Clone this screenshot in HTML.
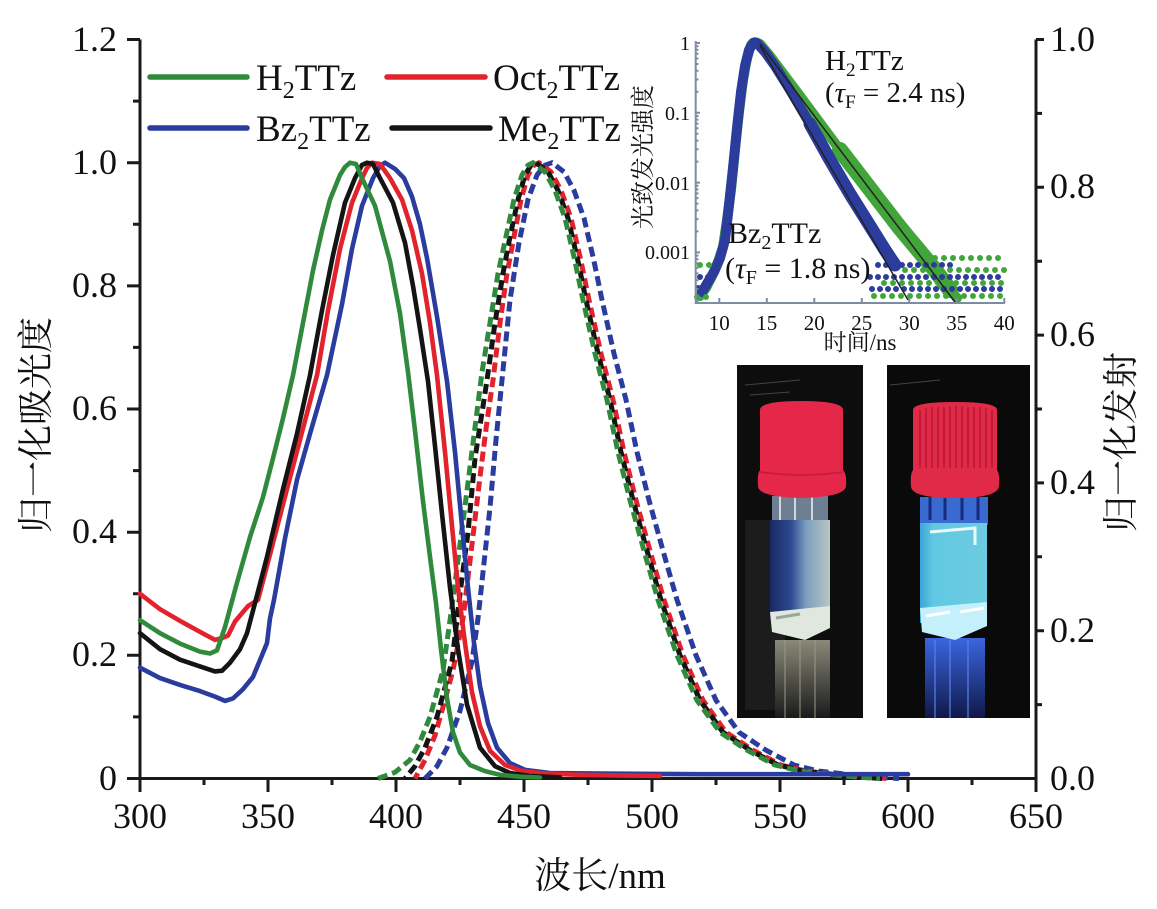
<!DOCTYPE html>
<html><head><meta charset="utf-8">
<style>
html,body{margin:0;padding:0;background:#fff;}
svg{display:block}
text{font-family:"Liberation Serif","Noto Serif CJK SC",serif;fill:#111}
.cjk{font-family:"Liberation Serif","Noto Serif CJK SC","Noto Sans CJK SC",serif}
</style></head>
<body>
<svg width="1157" height="909" viewBox="0 0 1157 909" xmlns="http://www.w3.org/2000/svg">
<defs>
<linearGradient id="bodyL" x1="0" x2="1" y1="0" y2="0">
<stop offset="0" stop-color="#1a2866"/><stop offset="0.35" stop-color="#2c4a90"/><stop offset="0.6" stop-color="#7c9ec0"/><stop offset="1" stop-color="#b9c6c2"/>
</linearGradient>
<linearGradient id="reflL" x1="0" x2="0" y1="0" y2="1">
<stop offset="0" stop-color="#8a8a7a"/><stop offset="1" stop-color="#1a1a1a"/>
</linearGradient>
<linearGradient id="reflR" x1="0" x2="0" y1="0" y2="1">
<stop offset="0" stop-color="#3a66e0"/><stop offset="1" stop-color="#101848"/>
</linearGradient>
<linearGradient id="bodyR" x1="0" x2="1" y1="0" y2="0">
<stop offset="0" stop-color="#3aa6d8"/><stop offset="0.2" stop-color="#62c8e2"/><stop offset="1" stop-color="#6ccbe0"/>
</linearGradient>
</defs>

<!-- ===== Photos ===== -->
<rect x="737" y="365" width="126" height="353" fill="#0d0d0d"/>
<rect x="745" y="520" width="40" height="190" fill="#262626" opacity="0.6"/>
<path d="M745,385 L800,380 M750,395 L790,392" stroke="#444" stroke-width="1"/>
<rect x="775" y="640" width="55" height="78" fill="url(#reflL)"/>
<path d="M785,640 V718 M800,640 V718 M815,640 V718" stroke="#9a9a88" stroke-width="2" opacity="0.5"/>
<rect x="772" y="496" width="56" height="28" fill="#6f7f92"/>
<path d="M780,496 V520 M795,496 V520 M812,496 V520" stroke="#cfd8e0" stroke-width="2"/>
<rect x="770" y="520" width="60" height="100" fill="url(#bodyL)"/>
<path d="M770,612 L830,606 L830,628 L805,640 L772,632 Z" fill="#dfe7df"/>
<path d="M776,618 L800,614" stroke="#9aa89a" stroke-width="3"/>
<path d="M760,410 Q760,401 801,401 Q843,401 843,410 L843,470 Q847,474 846,486 Q845,497 801,498 Q758,497 758,486 Q757,474 760,470 Z" fill="#e5284a"/>
<path d="M760,472 Q801,478 843,472" stroke="#c81e3c" stroke-width="2" fill="none"/>

<rect x="887" y="365" width="143" height="353" fill="#0a0a0a"/>
<path d="M890,385 L940,380" stroke="#444" stroke-width="1"/>
<rect x="925" y="638" width="60" height="80" fill="url(#reflR)"/>
<path d="M935,640 V718 M950,640 V718 M968,640 V718" stroke="#5a80f0" stroke-width="2" opacity="0.6"/>
<rect x="920" y="497" width="68" height="28" fill="#3a6ad0"/>
<path d="M930,497 V520 M945,497 V520 M962,497 V520 M978,497 V520" stroke="#1a2a80" stroke-width="3"/>
<rect x="920" y="523" width="67" height="100" fill="url(#bodyR)"/>
<path d="M930,532 L975,528 L975,545" stroke="#e8fbff" stroke-width="3" fill="none"/>
<path d="M920,608 L987,602 L987,626 L955,640 L922,632 Z" fill="#c4f0fb"/>
<path d="M926,616 L950,612 M960,612 L984,608" stroke="#ffffff" stroke-width="3"/>
<path d="M913,410 Q913,402 955,402 Q997,402 997,410 L997,470 Q1000,474 999,486 Q998,498 955,498 Q911,498 911,486 Q910,474 913,470 Z" fill="#e12a48"/>
<path d="M920,410 V468 M926,408 V468 M932,407 V468 M938,407 V468 M944,407 V468 M950,406 V468 M956,406 V468 M962,406 V468 M968,407 V468 M974,407 V468 M980,407 V468 M986,408 V468 M992,410 V468" stroke="#b81a36" stroke-width="1.6"/>

<!-- ===== Main axes ===== -->
<g stroke="#1a1a1a" stroke-width="3" fill="none">
<path d="M140,39.5 V778.5 H1036 V39.5"/>
<path d="M127,39.5 H140 M127,162.7 H140 M127,285.9 H140 M127,409 H140 M127,532.2 H140 M127,655.3 H140 M127,778.5 H140"/>
<path d="M133,101.1 H140 M133,224.3 H140 M133,347.4 H140 M133,470.6 H140 M133,593.8 H140 M133,716.9 H140"/>
<path d="M140,778.5 V792 M268,778.5 V792 M396,778.5 V792 M524,778.5 V792 M652,778.5 V792 M780,778.5 V792 M908,778.5 V792 M1036,778.5 V792"/>
<path d="M204,778.5 V785 M332,778.5 V785 M460,778.5 V785 M588,778.5 V785 M716,778.5 V785 M844,778.5 V785 M972,778.5 V785"/>
<path d="M1036,39.5 H1044 M1036,187.3 H1044 M1036,335.1 H1044 M1036,482.9 H1044 M1036,630.7 H1044"/>
<path d="M1036,113.4 H1042 M1036,261.2 H1042 M1036,409 H1042 M1036,556.8 H1042 M1036,704.6 H1042"/>
</g>

<!-- tick labels -->
<g font-size="36" text-anchor="end">
<text x="117" y="51">1.2</text>
<text x="117" y="174">1.0</text>
<text x="117" y="297">0.8</text>
<text x="117" y="420">0.6</text>
<text x="117" y="543">0.4</text>
<text x="117" y="666">0.2</text>
<text x="117" y="790">0</text>
</g>
<g font-size="36">
<text x="1050" y="51">1.0</text>
<text x="1050" y="198">0.8</text>
<text x="1050" y="346">0.6</text>
<text x="1050" y="494">0.4</text>
<text x="1050" y="642">0.2</text>
<text x="1050" y="790">0.0</text>
</g>
<g font-size="36" text-anchor="middle">
<text x="140" y="828">300</text>
<text x="268" y="828">350</text>
<text x="396" y="828">400</text>
<text x="524" y="828">450</text>
<text x="652" y="828">500</text>
<text x="780" y="828">550</text>
<text x="908" y="828">600</text>
<text x="1036" y="828">650</text>
</g>

<!-- axis titles -->
<text class="cjk" x="600" y="888" font-size="37" text-anchor="middle">波长/nm</text>
<text class="cjk" font-size="36" text-anchor="middle" transform="translate(35,425) rotate(-90)" y="13">归一化吸光度</text>
<text class="cjk" font-size="36" text-anchor="middle" transform="translate(1120,442) rotate(-90)" y="13">归一化发射</text>

<!-- ===== Emission (dashed) ===== -->
<g fill="none" stroke-width="5" stroke-dasharray="10 5" stroke-linejoin="round">
<polyline stroke="#2a3c9e" points="425,778.5 437,766.2 447,747.7 460,710.8 472,661.5 478,618.4 484,563 490,507.5 496,439.8 502,380.1 510,300 519,242.8 528,199.6 537,175 545,165.2 552,162.7 564,171.9 574,190.4 584,218.1 594,261.2 602,300 614,353.6 626,399.8 637,452.1 649,500.2 663,550.7 677,599.9 696,655.3 716,700.3 739,732.3 766,750.2 794,765 819,771.1 852,774.8 879,777.3 899,778.5"/>
<polyline stroke="#e2232e" stroke-dashoffset="4" points="415,778.5 425,760 435,735.4 443,707.1 453,670.1 463,618.4 472,544.5 480,476.8 487,421.3 493,380.1 500,322.8 507,273.5 514,236.6 521,199.6 528,175 534,165.2 539,162.7 551,171.9 561,190.4 571,218.1 581,261.2 589,300 601,353.6 613,399.8 624,452.1 636,500.2 650,550.7 664,599.9 683,655.3 703,700.3 726,732.3 753,750.2 781,765 806,771.1 839,774.8 866,777.3 886,778.5"/>
<polyline stroke="#141414" stroke-dashoffset="8" points="405,778.5 415,766.2 425,747.7 437,716.9 452,661.5 460,593.8 468,532.2 475,458.3 487,380.1 495,322.8 503,273.5 510,236.6 518,199.6 525,175 531,165.2 536,162.7 548,171.9 558,190.4 568,218.1 578,261.2 586,300 598,353.6 610,399.8 621,452.1 633,500.2 647,550.7 661,599.9 680,655.3 700,700.3 723,732.3 750,750.2 778,765 803,771.1 836,774.8 863,777.3 883,778.5"/>
<polyline stroke="#2f8a3c" stroke-dashoffset="0" points="378,778.5 395,772.3 410,760 420,741.6 430,716.9 443,670.1 452,606.1 460,544.5 468,482.9 475,427.5 482,372.1 490,322.8 498,273.5 506,236.6 514,199.6 522,175 528,165.2 533,162.7 545,171.9 555,190.4 565,218.1 575,261.2 583,300 595,353.6 607,399.8 618,452.1 630,500.2 644,550.7 658,599.9 677,655.3 697,700.3 720,732.3 747,750.2 775,765 800,771.1 833,774.8 860,777.3 880,778.5"/>
</g>

<!-- ===== Absorption (solid) ===== -->
<g fill="none" stroke-width="4.6" stroke-linejoin="round" stroke-linecap="round">
<polyline stroke="#2a3c9e" points="140,667.7 160,678.1 180,684.9 200,691.1 215,696.6 225,700.9 233,698.4 243,689.2 253,676.9 262,655.3 267,643 270,618.4 274,599.9 285,538.3 297,479.8 310,433.7 327,375.2 342,304.3 352,248.9 362,205.8 373,178.1 380,166 385,162.7 395,168.9 404,178.1 412,196.6 420,224.3 427,258.1 437,316.6 447,381.3 455,452.1 462,526 468,587.6 474,643 480,686.1 488,723.1 497,747.7 510,763.1 525,769.9 550,773 600,773.6 700,774.2 908,774.2"/>
<polyline stroke="#e2232e" points="140,593.8 160,609.2 180,620.9 200,631.9 215,639.9 222,638.1 228,635.6 235,621.5 248,606.1 258,599.9 271,550.7 287,489.1 300,439.8 317,375.2 328,310.5 340,248.9 352,202.7 362,178.1 367,168 372,162.7 380,164 390,178.1 402,199.6 412,230.4 422,273.5 430,322.8 437,375.2 445,452.1 452,526 458,587.6 465,643 472,692.3 480,726.2 490,750.8 505,765 520,770.5 545,773.6 580,774.8 620,775.4 660,776"/>
<polyline stroke="#141414" points="140,633.2 160,649.2 180,659.7 200,666.4 215,671.4 222,670.7 230,662.7 240,649.2 247,633.2 255,603 267,556.8 283,489.1 297,433.7 310,375.2 322,310.5 333,255.1 345,202.7 355,178.1 362,165 367,162.7 373,164 380,178.1 393,202.7 405,242.8 413,285.9 420,329 428,381.3 435,446 442,513.7 450,587.6 458,649.2 467,704.6 480,747.7 495,766.2 510,773 530,776 560,777.3"/>
<polyline stroke="#2f8a3c" points="140,620.2 160,633.2 180,643.6 200,651.6 210,653.5 217,650.4 225,627 237,582.7 250,537.1 263,497.1 273,458.3 283,418.3 293,375.2 303,322.8 313,270.5 322,230.4 330,199.6 340,175 345,167 350,162.7 356,164 362,178.1 375,205.8 390,261.2 400,313.6 408,372.1 415,430.6 423,501.4 430,556.8 436,603 441,649.2 447,698.4 453,732.3 460,752.6 470,765 485,771.1 500,774.8 520,776.7 540,777.5"/>
</g>

<!-- ===== Legend ===== -->
<g stroke-width="5.5" stroke-linecap="round">
<line x1="150" y1="77" x2="247" y2="77" stroke="#2f8a3c"/>
<line x1="150" y1="128" x2="247" y2="128" stroke="#2a3c9e"/>
<line x1="387" y1="77" x2="485" y2="77" stroke="#e2232e"/>
<line x1="392" y1="128" x2="490" y2="128" stroke="#141414"/>
</g>
<g font-size="37">
<text x="256" y="90">H<tspan font-size="24" dy="8">2</tspan><tspan dy="-8">TTz</tspan></text>
<text x="256" y="141">Bz<tspan font-size="24" dy="8">2</tspan><tspan dy="-8">TTz</tspan></text>
<text x="493" y="90">Oct<tspan font-size="24" dy="8">2</tspan><tspan dy="-8">TTz</tspan></text>
<text x="498" y="141">Me<tspan font-size="24" dy="8">2</tspan><tspan dy="-8">TTz</tspan></text>
</g>

<!-- ===== Inset ===== -->
<g fill="none" stroke-linejoin="round" stroke-linecap="round">
<!-- green band -->
<polyline stroke="#42a53a" stroke-width="10" points="700,296 706,288 712,276 718,262 723,247 727,220 731,190 735,150 739,112 743,80 747,58 751,45 755,42 760,44 770,56 785,76 800,96 820,123 840,150 860,176 880,202 900,228 920,252 935,270 950,290 957,298"/>
<polyline stroke="#42a53a" stroke-width="16" points="840,150 860,176 880,202 900,228 920,252 935,270 950,290"/>
<!-- blue band -->
<polyline stroke="#2b3c9c" stroke-width="10" points="702,292 708,282 714,272 720,258 725,240 729,205 733,168 737,128 741,92 745,66 749,50 753,43 757,43 765,52 775,66 790,90 810,124 830,160 850,194 870,226 885,250 895,265"/>
<polyline stroke="#2b3c9c" stroke-width="13" points="810,124 830,160 850,194 870,226 885,250 895,265"/>
</g>
<g fill="none" stroke-linecap="round" stroke-width="6">
<path stroke="#2b3c9c" stroke-dasharray="0 8" d="M872,289 H1005 M870,277 H1000 M878,265 H955 M698,288 H712 M700,277 H710"/>
<path stroke="#42a53a" stroke-dasharray="0 9" d="M935,258 H1005 M905,270 H1005 M884,283 H1005 M874,296 H1005 M697,297 H712 M700,265 H712"/>
</g>
<g stroke="#222" stroke-width="1.5" fill="none">
<line x1="760" y1="44" x2="955" y2="302"/>
<line x1="760" y1="46" x2="908" y2="300"/>
</g>
<!-- inset axes -->
<g stroke="#7d8ca2" stroke-width="2" fill="none">
<path d="M695.7,41 V303 H1005"/>
<path d="M695.7,43 H700 M695.7,112.8 H700 M695.7,182.6 H700 M695.7,252.4 H700"/>
<path d="M695.7,91.8 H698.5 M695.7,79.5 H698.5 M695.7,70.8 H698.5 M695.7,64 H698.5 M695.7,58.5 H698.5 M695.7,53.8 H698.5 M695.7,49.8 H698.5 M695.7,46.2 H698.5
M695.7,161.6 H698.5 M695.7,149.3 H698.5 M695.7,140.6 H698.5 M695.7,133.8 H698.5 M695.7,128.3 H698.5 M695.7,123.6 H698.5 M695.7,119.6 H698.5 M695.7,116 H698.5
M695.7,231.4 H698.5 M695.7,219.1 H698.5 M695.7,210.4 H698.5 M695.7,203.6 H698.5 M695.7,198.1 H698.5 M695.7,193.4 H698.5 M695.7,189.4 H698.5 M695.7,185.8 H698.5
M695.7,301.2 H698.5 M695.7,288.9 H698.5 M695.7,280.2 H698.5 M695.7,273.4 H698.5 M695.7,267.9 H698.5 M695.7,263.2 H698.5 M695.7,259.2 H698.5 M695.7,255.6 H698.5"/>
<path d="M719.3,303 V298 M766.8,303 V298 M814.3,303 V298 M861.8,303 V298 M909.3,303 V298 M956.8,303 V298 M1004.3,303 V298"/>
</g>
<g font-size="20" text-anchor="end">
<text x="690" y="50">1</text>
<text x="690" y="120">0.1</text>
<text x="690" y="190">0.01</text>
<text x="690" y="259">0.001</text>
</g>
<g font-size="21" text-anchor="middle">
<text x="719.3" y="330">10</text>
<text x="766.8" y="330">15</text>
<text x="814.3" y="330">20</text>
<text x="861.8" y="330">25</text>
<text x="909.3" y="330">30</text>
<text x="956.8" y="330">35</text>
<text x="1004.3" y="330">40</text>
</g>
<text class="cjk" x="860" y="350" font-size="23" text-anchor="middle">时间/ns</text>
<text class="cjk" font-size="24" text-anchor="middle" transform="translate(642,157) rotate(-90)" y="9">光致发光强度</text>

<g font-size="29">
<text x="825" y="70">H<tspan font-size="19" dy="6">2</tspan><tspan dy="-6">TTz</tspan></text>
<text x="825" y="102">(<tspan font-style="italic">τ</tspan><tspan font-size="19" dy="6">F</tspan><tspan dy="-6"> = 2.4 ns)</tspan></text>
</g>
<g font-size="30">
<text x="728" y="243">Bz<tspan font-size="20" dy="6">2</tspan><tspan dy="-6">TTz</tspan></text>
<text x="725" y="278">(<tspan font-style="italic">τ</tspan><tspan font-size="20" dy="6">F</tspan><tspan dy="-6"> = 1.8 ns)</tspan></text>
</g>
</svg>
</body></html>
